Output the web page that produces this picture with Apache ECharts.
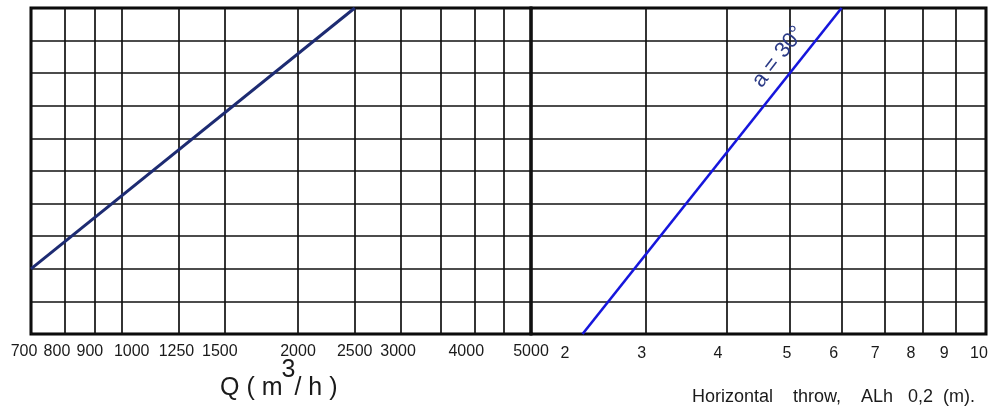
<!DOCTYPE html>
<html>
<head>
<meta charset="utf-8">
<script src="https://cdn.jsdelivr.net/npm/echarts@6/dist/echarts.min.js"></script>
<style>html,body{margin:0;padding:0;background:#fff;}#c{width:999px;height:410px;}</style>
</head>
<body>
<div id="c"></div>
<script>
// Left panel: flow Q (m3/h), logarithmic
const flowGridValues = [700, 800, 900, 1000, 1250, 1500, 2000, 2500, 3000, 3500, 4000, 4500, 5000];
const flowTickLabels = [700, 800, 900, 1000, 1250, 1500, 2000, 2500, 3000, 4000, 5000];
// Right panel: horizontal throw (m), logarithmic
const throwGridValues = [2, 3, 4, 5, 6, 7, 8, 9, 10];
const throwTickLabels = [2, 3, 4, 5, 6, 7, 8, 9, 10];
// Vertical scale (unlabelled rows)
const rowMin = 0, rowMax = 10, rowStep = 1;
// Series
const flowLine = [[700, 2], [2500, 10]];
const throwLine = [[2.4, 0], [6.0, 10]];
const throwLabel = 'a = 30°';
const throwLabelAt = [4.8, 8.5];

// label nudges (px, styling only)
const flowLabelNudge = {700: -7, 800: -8, 900: -5, 1000: 10, 1250: -2, 1500: -5, 3000: -3, 4000: -8};
const throwLabelNudge = {2: 34, 3: -4, 4: -9, 5: -3, 6: -8, 7: -10, 8: -12, 9: -12, 10: -7};

const FONT = 'Liberation Sans, Arial, sans-serif';
const lblFont = {fontFamily: FONT, fontSize: 16, color: '#1a1a1a'};

function nudgeRich(map) {
  const rich = {};
  Object.keys(map).forEach(k => {
    const d = map[k];
    rich['p' + k] = Object.assign({padding: d >= 0 ? [0, 0, 0, 2 * d] : [0, -2 * d, 0, 0]}, lblFont);
  });
  return rich;
}
function nudgeFmt(map) {
  return v => {
    const key = String(Math.round(v));
    return map[key] !== undefined ? '{p' + key + '|' + key + '}' : key;
  };
}

const chart = echarts.init(document.getElementById('c'), null, {renderer: 'canvas'});
const gridLine = {show: true, lineStyle: {color: '#111', width: 1.7}};

chart.setOption({
  backgroundColor: '#fff',
  animation: false,
  grid: [
    {left: 31, top: 8, width: 500, height: 326, show: true, borderColor: '#000', borderWidth: 3, backgroundColor: 'transparent'},
    {left: 531, top: 8, width: 455, height: 326, show: true, borderColor: '#000', borderWidth: 3, backgroundColor: 'transparent'}
  ],
  xAxis: [
    {
      type: 'log', gridIndex: 0, min: 700, max: 5000, logBase: 10,
      axisLine: {show: false},
      axisTick: {show: false, customValues: flowGridValues},
      splitLine: gridLine,
      axisLabel: Object.assign({
        customValues: flowTickLabels, margin: 10,
        formatter: nudgeFmt(flowLabelNudge), rich: nudgeRich(flowLabelNudge),
        showMinLabel: true, showMaxLabel: true
      }, lblFont)
    },
    {
      type: 'log', gridIndex: 1, min: 2, max: 10, logBase: 10,
      axisLine: {show: false},
      axisTick: {show: false, customValues: throwGridValues},
      splitLine: gridLine,
      axisLabel: Object.assign({
        customValues: throwTickLabels, margin: 12,
        formatter: nudgeFmt(throwLabelNudge), rich: nudgeRich(throwLabelNudge),
        showMinLabel: true, showMaxLabel: true
      }, lblFont)
    }
  ],
  yAxis: [
    {type: 'value', gridIndex: 0, min: rowMin, max: rowMax, interval: rowStep,
     axisLine: {show: false}, axisTick: {show: false}, axisLabel: {show: false}, splitLine: gridLine},
    {type: 'value', gridIndex: 1, min: rowMin, max: rowMax, interval: rowStep,
     axisLine: {show: false}, axisTick: {show: false}, axisLabel: {show: false}, splitLine: gridLine}
  ],
  series: [
    {type: 'line', xAxisIndex: 0, yAxisIndex: 0, data: flowLine, symbol: 'none',
     lineStyle: {color: '#1d2b72', width: 3}, z: 5},
    {type: 'line', xAxisIndex: 1, yAxisIndex: 1, data: throwLine, symbol: 'none',
     lineStyle: {color: '#1616dc', width: 2.6}, z: 5}
  ]
});

// Axis title "Q ( m³/ h )" built from pieces
const ctx = document.createElement('canvas').getContext('2d');
const qSize = 25;
ctx.font = qSize + 'px "Liberation Sans", Arial, sans-serif';
const partA = 'Q ( m', partS = '3', partB = '/ h )';
const wA = ctx.measureText(partA).width;
const wS = ctx.measureText(partS).width;
const qLeft = 220, qBase = 401;

const lp = chart.convertToPixel({gridIndex: 1}, throwLabelAt);
const txt = (text, x, y, size) => ({
  type: 'text', x: x, y: y, z: 10,
  style: {text: text, fontFamily: FONT, fontSize: size, fill: '#1a1a1a', verticalAlign: 'bottom'}
});
chart.setOption({
  graphic: [
    txt(partA, qLeft, qBase, qSize),
    txt(partS, qLeft + wA - 1, qBase - 18, qSize),
    txt(partB, qLeft + wA + wS - 2, qBase, qSize),
    {
      type: 'text', left: 692, top: 388, z: 10,
      style: {text: 'Horizontal    throw,    ALh   0,2  (m).', fontFamily: FONT, fontSize: 18, fill: '#1a1a1a'}
    },
    {
      type: 'text', x: lp[0], y: lp[1], rotation: 52 * Math.PI / 180, z: 10,
      style: {text: throwLabel, fontFamily: FONT, fontSize: 22, fill: '#2b3a86', align: 'center', verticalAlign: 'middle'}
    }
  ]
});
</script>
</body>
</html>
